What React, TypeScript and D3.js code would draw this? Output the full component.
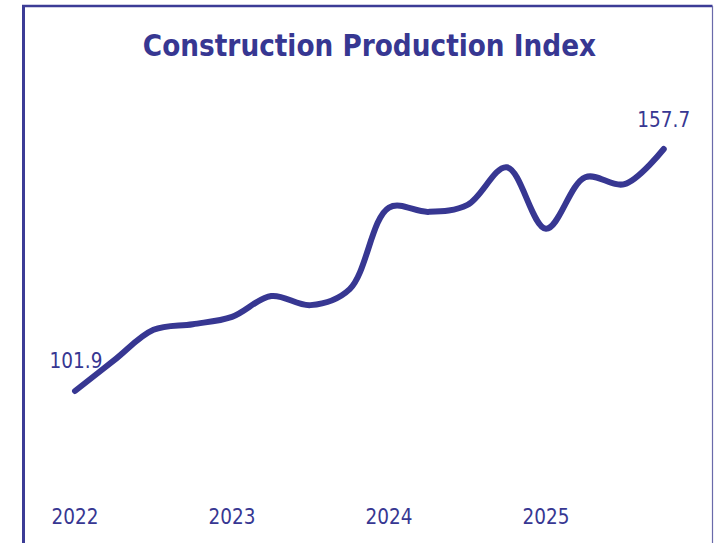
import React from "react";
import * as d3 from "d3";

const quarters: string[] = [
  "2022Q1", "2022Q2", "2022Q3", "2022Q4",
  "2023Q1", "2023Q2", "2023Q3", "2023Q4",
  "2024Q1", "2024Q2", "2024Q3", "2024Q4",
  "2025Q1", "2025Q2", "2025Q3", "2025Q4",
];
const values: number[] = [
  101.9, 109.0, 116.0, 117.3, 119.0, 123.8, 121.7, 125.4,
  144.2, 143.2, 144.8, 153.5, 139.3, 151.2, 149.6, 157.7,
];
const yearLabels: string[] = ["2022", "2023", "2024", "2025"];
const title = "Construction Production Index";

const W = 714;
const H = 543;
const COLOR = "#373792";
const FONT = "'DejaVu Sans Condensed', 'DejaVu Sans', sans-serif";

export default function App() {
  const x = d3.scaleLinear().domain([0, quarters.length - 1]).range([75, 663.75]);
  const y = d3.scaleLinear().domain([101.9, 157.7]).range([391, 149]);
  const line = d3
    .line<number>()
    .x((_, i) => x(i))
    .y((d) => y(d))
    .curve(d3.curveCatmullRom.alpha(0.5));
  const first = 0;
  const last = values.length - 1;
  return (
    <div style={{ position: "absolute", left: 0, top: 0 }}>
      <svg width={W} height={H} style={{ display: "block" }}>
        <rect x={0} y={0} width={W} height={H} fill="#ffffff" />
        <line x1={23.5} y1={6} x2={23.5} y2={H} stroke="#3c3c96" strokeWidth={3} />
        <line x1={22} y1={6} x2={712.5} y2={6} stroke="#3c3c96" strokeWidth={2.5} />
        <line x1={712.5} y1={6} x2={712.5} y2={H} stroke="#6a6aaa" strokeWidth={1.2} />
        <text
          x={369.5}
          y={56}
          textAnchor="middle"
          fill={COLOR}
          style={{ fontFamily: FONT, fontWeight: "bold", fontSize: 29.3, fontStretch: "condensed" }}
        >
          {title}
        </text>
        <path d={line(values) || ""} fill="none" stroke={COLOR} strokeWidth={6} strokeLinecap="round" strokeLinejoin="round" />
        <text x={x(first) + 1} y={y(values[first]) - 23} textAnchor="middle" fill={COLOR}
          style={{ fontFamily: FONT, fontSize: 20.5, fontStretch: "condensed" }}>
          {values[first].toFixed(1)}
        </text>
        <text x={x(last)} y={y(values[last]) - 22} textAnchor="middle" fill={COLOR}
          style={{ fontFamily: FONT, fontSize: 20.5, fontStretch: "condensed" }}>
          {values[last].toFixed(1)}
        </text>
        {yearLabels.map((yl, i) => (
          <text key={yl} x={x(i * 4)} y={524} textAnchor="middle" fill={COLOR}
            style={{ fontFamily: FONT, fontSize: 20.5, fontStretch: "condensed" }}>
            {yl}
          </text>
        ))}
      </svg>
    </div>
  );
}
